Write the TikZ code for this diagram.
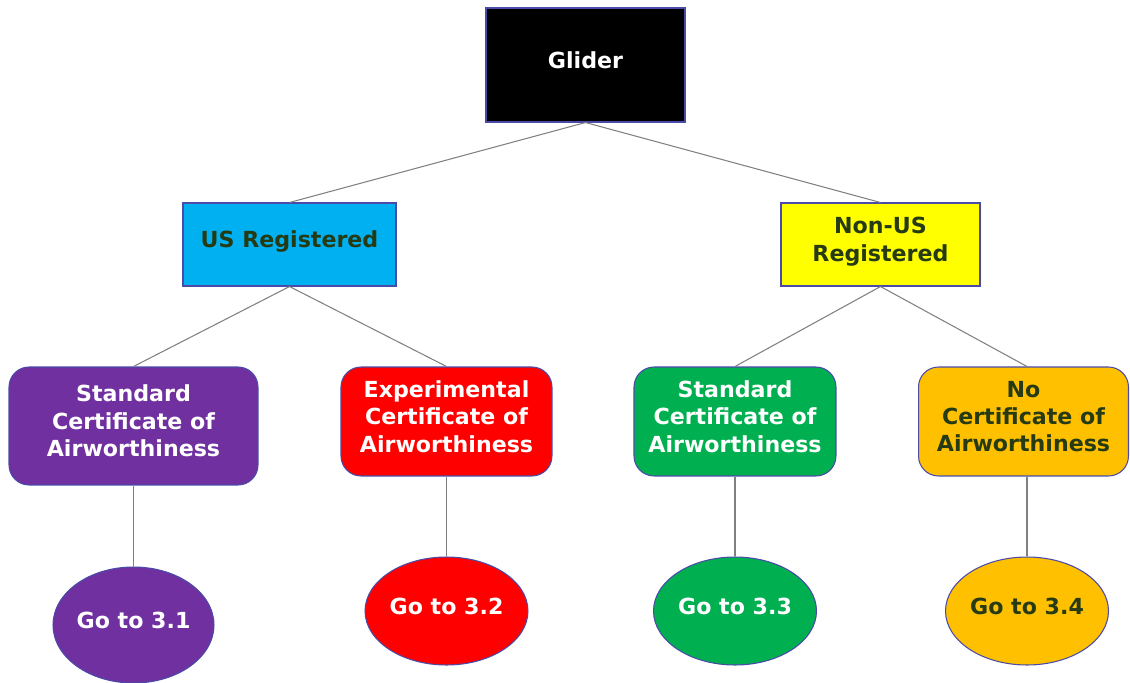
\documentclass[tikz,border=0pt]{standalone}
\usepackage{fontspec}
\setmainfont{DejaVu Sans}
\usepackage{xcolor}
\usepackage{tikz}
\usetikzlibrary{shapes.geometric}

\definecolor{edgeblue}{HTML}{4A4AA8}
\definecolor{txtdark}{HTML}{263A14}
\definecolor{cblue}{HTML}{00B0F0}
\definecolor{cyellow}{HTML}{FFFF00}
\definecolor{cpurple}{HTML}{7030A0}
\definecolor{cred}{HTML}{FF0000}
\definecolor{cgreen}{HTML}{00B050}
\definecolor{corange}{HTML}{FFC000}

\begin{document}
\begin{tikzpicture}[
  x=0.02cm, y=-0.02cm,
  box/.style={draw=edgeblue,line width=0.6pt,inner sep=0pt,align=center,text depth=5.8pt,
    font=\fontsize{12.6}{15.6}\selectfont\bfseries},
  cert/.style={box,rounded corners=0.4cm,minimum height=2.18cm},
  goto/.style={box,ellipse,minimum width=3.26cm,minimum height=2.16cm},
  conn/.style={draw=gray,line width=0.6pt},
]
\useasboundingbox (0,0) rectangle (1130,683);

% top
\node[box,fill=black,text=white,minimum width=3.98cm,minimum height=2.28cm] (glider) at (585.5,65) {Glider};

% registration
\node[box,fill=cblue,text=txtdark,minimum width=4.26cm,minimum height=1.66cm] (us) at (289.5,244.5) {US Registered};
\node[box,fill=cyellow,text=txtdark,minimum width=3.98cm,minimum height=1.66cm] (nonus) at (880.5,244.5) {Non-US\\Registered};

% certificates
\node[cert,fill=cpurple,text=white,minimum width=4.98cm,minimum height=2.36cm] (stdus) at (133.5,426) {Standard\\Certificate of\\Airworthiness};
\node[cert,fill=cred,text=white,minimum width=4.22cm] (expus) at (446.5,421.5) {Experimental\\Certificate of\\Airworthiness};
\node[cert,fill=cgreen,text=white,minimum width=4.04cm] (stdnon) at (735,421.5) {Standard\\Certificate of\\Airworthiness};
\node[cert,fill=corange,text=txtdark,minimum width=4.2cm] (nocert) at (1023.5,421.5) {No\\Certificate of\\Airworthiness};

% go to
\node[goto,fill=cpurple,text=white,minimum width=3.22cm,minimum height=2.32cm] (go1) at (133.5,625) {Go to 3.1};
\node[goto,fill=cred,text=white] (go2) at (446.5,611) {Go to 3.2};
\node[goto,fill=cgreen,text=white] (go3) at (735,611) {Go to 3.3};
\node[goto,fill=corange,text=txtdark] (go4) at (1027,611) {Go to 3.4};

\draw[conn] (glider.south) -- (us.north);
\draw[conn] (glider.south) -- (nonus.north);
\draw[conn] (us.south) -- (stdus.north);
\draw[conn] (us.south) -- (expus.north);
\draw[conn] (nonus.south) -- (stdnon.north);
\draw[conn] (nonus.south) -- (nocert.north -| go4.north);
\draw[conn] (stdus.south) -- (go1.north);
\draw[conn] (expus.south) -- (go2.north);
\draw[conn] (stdnon.south) -- (go3.north);
\draw[conn] (nocert.south -| go4.north) -- (go4.north);
\end{tikzpicture}
\end{document}
